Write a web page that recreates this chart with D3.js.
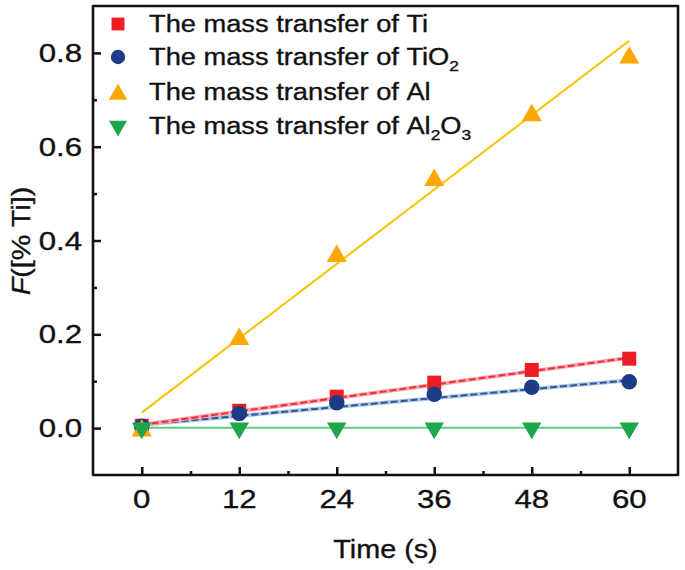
<!DOCTYPE html>
<html><head><meta charset="utf-8">
<script src="https://cdn.jsdelivr.net/npm/d3@7"></script>
<style>html,body{margin:0;padding:0;background:#fff}svg{display:block}</style>
</head><body>
<script>
// ---- data ----
const times = [0, 12, 24, 36, 48, 60];
const tiVals = [0.005, 0.037, 0.067, 0.097, 0.124, 0.148];
const tio2Vals = [0.004, 0.031, 0.054, 0.072, 0.087, 0.099];
const alVals = [0.000, 0.195, 0.372, 0.534, 0.672, 0.795];
const al2o3Vals = [0.000, 0.000, 0.000, 0.000, 0.000, 0.000];
// fitted lines (end points)
const fitX = [0, 60];
const tiFit = [0.007, 0.150];
const tio2Fit = [0.007, 0.102];
const alFit = [0.033, 0.826];
const al2o3Fit = [0.001, 0.001];
const xTicks = [0, 12, 24, 36, 48, 60];
const xMinor = [6, 18, 30, 42, 54];
const yTicks = [0.0, 0.2, 0.4, 0.6, 0.8];
const yMinor = [0.1, 0.3, 0.5, 0.7];
const legendNames = ["Ti", "TiO2", "Al", "Al2O3"];

const W = 685, H = 570;
const svg = d3.select("body").append("svg").attr("width", W).attr("height", H);
const x = d3.scaleLinear().domain([-6, 66]).range([93, 678]);
const y = d3.scaleLinear().domain([-0.1, 0.9]).range([475, 6]);
const FONT = "'Liberation Sans', Arial, Helvetica, sans-serif";

function stext(g, px, py, anchor, size, sx) {
  return g.append("text")
    .attr("transform", `translate(${px},${py}) scale(${sx},1)`)
    .attr("text-anchor", anchor)
    .attr("font-family", FONT)
    .attr("font-size", size)
    .attr("fill", "#111")
    .attr("stroke", "#111").attr("stroke-width", 0.35);
}

// axes ticks (inside)
const gx = svg.append("g").attr("transform", `translate(0,${y.range()[0]})`)
  .call(d3.axisBottom(x).tickValues(xTicks).tickSize(-8).tickFormat(""));
const gxm = svg.append("g").attr("transform", `translate(0,${y.range()[0]})`)
  .call(d3.axisBottom(x).tickValues(xMinor).tickSize(-4).tickFormat(""));
const gy = svg.append("g").attr("transform", `translate(${x.range()[0]},0)`)
  .call(d3.axisLeft(y).tickValues(yTicks).tickSize(-8).tickFormat(""));
const gym = svg.append("g").attr("transform", `translate(${x.range()[0]},0)`)
  .call(d3.axisLeft(y).tickValues(yMinor).tickSize(-4).tickFormat(""));
[gx, gxm, gy, gym].forEach(g => {
  g.select(".domain").remove();
  g.selectAll("line").attr("stroke", "#111").attr("stroke-width", 2.5);
});

// frame
svg.append("rect")
  .attr("x", x.range()[0]).attr("y", y.range()[1])
  .attr("width", x.range()[1] - x.range()[0]).attr("height", y.range()[0] - y.range()[1])
  .attr("fill", "none").attr("stroke", "#111").attr("stroke-width", 2.6)
  .attr("stroke-linejoin", "round");

// tick labels
xTicks.forEach(v => {
  stext(svg, x(v), 508, "middle", 26, 1.2).text(String(v));
});
yTicks.forEach(v => {
  stext(svg, 82, y(v) + 9, "end", 26, 1.2).text(v.toFixed(1));
});

// axis titles
stext(svg, x(30), 558, "middle", 25, 1.15).text("Time (s)");
const yl = svg.append("text")
  .attr("transform", "translate(30,241) rotate(-90) scale(1.15,1)")
  .attr("text-anchor", "middle")
  .attr("font-family", FONT).attr("font-size", 25).attr("fill", "#111")
  .attr("stroke", "#111").attr("stroke-width", 0.35);
yl.append("tspan").attr("font-style", "italic").text("F");
yl.append("tspan").text("([% Ti])");

// fit lines
const line = d3.line().x(d => x(d[0])).y(d => y(d[1]));
function fitPts(arr) { return fitX.map((t, i) => [t, arr[i]]); }
svg.append("path").attr("d", line(fitPts(alFit))).attr("fill", "none")
  .attr("stroke", "#f7c200").attr("stroke-width", 2);
svg.append("path").attr("d", line(fitPts(al2o3Fit))).attr("fill", "none")
  .attr("stroke", "#62c985").attr("stroke-width", 2);
svg.append("path").attr("d", line(fitPts(tio2Fit))).attr("fill", "none")
  .attr("stroke", "#a9c7e8").attr("stroke-width", 4);
svg.append("path").attr("d", line(fitPts(tio2Fit))).attr("fill", "none")
  .attr("stroke", "#34558f").attr("stroke-width", 2).attr("stroke-dasharray", "7,3");
svg.append("path").attr("d", line(fitPts(tiFit))).attr("fill", "none")
  .attr("stroke", "#f8a7ae").attr("stroke-width", 4);
svg.append("path").attr("d", line(fitPts(tiFit))).attr("fill", "none")
  .attr("stroke", "#ea2f3c").attr("stroke-width", 2).attr("stroke-dasharray", "7,3");

// markers
const series = [
  { vals: tiVals, color: "#ee1c25", sym: d3.symbolSquare, size: 196, rot: 0, dy: 0 },
  { vals: tio2Vals, color: "#1c3d85", sym: d3.symbolCircle, size: 190, rot: 0, dy: 0 },
  { vals: alVals, color: "#fba800", sym: d3.symbolTriangle, size: 175, rot: 0, dy: 2.5 },
  { vals: al2o3Vals, color: "#1ea64b", sym: d3.symbolTriangle, size: 165, rot: 180, dy: 0 }
];
series.forEach(s => {
  const p = d3.symbol().type(s.sym).size(s.size)();
  svg.append("g").selectAll("path").data(times.map((t, i) => [t, s.vals[i]]))
    .join("path")
    .attr("d", p)
    .attr("transform", d => `translate(${x(d[0])},${y(d[1]) + s.dy}) rotate(${s.rot})`)
    .attr("fill", s.color);
});

// legend
const legRows = [24, 57, 92, 126];
series.forEach((s, i) => {
  const p = d3.symbol().type(s.sym).size(s.size * 0.85)();
  svg.append("path").attr("d", p)
    .attr("transform", `translate(118,${legRows[i] + s.dy}) rotate(${s.rot})`)
    .attr("fill", s.color);
  const t = stext(svg, 149, legRows[i] + 8, "start", 23.5, 1.16);
  const name = legendNames[i];
  t.append("tspan").text("The mass transfer of ");
  if (name === "TiO2") {
    t.append("tspan").text("TiO");
    t.append("tspan").attr("font-size", 15).attr("dy", 6).text("2");
  } else if (name === "Al2O3") {
    t.append("tspan").text("Al");
    t.append("tspan").attr("font-size", 15).attr("dy", 6).text("2");
    t.append("tspan").attr("dy", -6).text("O");
    t.append("tspan").attr("font-size", 15).attr("dy", 6).text("3");
  } else {
    t.append("tspan").text(name);
  }
});
</script>
</body></html>
